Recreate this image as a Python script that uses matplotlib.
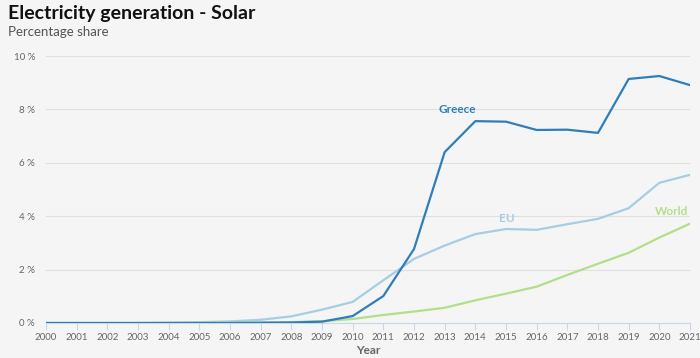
import matplotlib
matplotlib.use("Agg")
import matplotlib.pyplot as plt
from matplotlib.ticker import FuncFormatter

# ----------------------------------------------------------------- data
years = list(range(2000, 2022))
greece = [0, 0, 0, 0, 0, 0, 0, 0.01, 0.02, 0.05, 0.26, 1.01, 2.77, 6.4,
          7.56, 7.54, 7.23, 7.24, 7.12, 9.14, 9.25, 8.91]
eu = [0, 0, 0, 0, 0.01, 0.03, 0.06, 0.12, 0.25, 0.5, 0.79, 1.6, 2.4, 2.9,
      3.33, 3.52, 3.49, 3.7, 3.9, 4.3, 5.25, 5.55]
world = [0, 0, 0, 0, 0.01, 0.01, 0.01, 0.02, 0.03, 0.07, 0.15, 0.3, 0.43,
         0.57, 0.85, 1.1, 1.36, 1.8, 2.22, 2.63, 3.2, 3.72]
y_ticks = [0, 2, 4, 6, 8, 10]

C_GREECE = "#2f7ebc"
C_EU = "#a6cee3"
C_WORLD = "#b2df8a"
BG = "#f5f5f5"
FONT = ["Lato", "DejaVu Sans"]

plt.rcParams["font.family"] = FONT

fig = plt.figure(figsize=(7, 3.58), dpi=100, facecolor=BG)
ax = fig.add_axes([46 / 700, 35 / 358, 644 / 700, 267 / 358])
ax.set_facecolor(BG)

ax.plot(years, greece, color=C_GREECE, lw=1.6, zorder=3)
ax.plot(years, eu, color=C_EU, lw=1.6, zorder=2)
ax.plot(years, world, color=C_WORLD, lw=1.6, zorder=2)

# in-chart series labels
ax.text(2013.4, 7.98, "Greece", color=C_GREECE, fontsize=8.5, fontweight="bold",
        ha="center", va="center")
ax.text(2015.03, 3.93, "EU", color=C_EU, fontsize=8.5, fontweight="bold",
        ha="center", va="center")
ax.text(2020.4, 4.16, "World", color=C_WORLD, fontsize=8.5, fontweight="bold",
        ha="center", va="center")

ax.set_xlim(2000, 2021)
ax.set_ylim(0, 10)
ax.set_xticks(years)
ax.set_yticks(y_ticks)
ax.yaxis.set_major_formatter(FuncFormatter(lambda v, _: f"{v:.0f} %"))
ax.grid(axis="y", color="#e0e0e0", lw=0.8)
ax.set_axisbelow(True)
for s in ["top", "right", "left"]:
    ax.spines[s].set_visible(False)
ax.spines["bottom"].set_color("#ccd6eb")
ax.tick_params(axis="x", colors="#ccd6eb", labelcolor="#666666",
               labelsize=7, length=5, pad=2)
ax.tick_params(axis="y", length=0, labelcolor="#666666", labelsize=7, pad=8)
ax.set_xlabel("Year", color="#666666", fontsize=8.5, fontweight="bold", labelpad=2)

fig.text(8 / 700, 1 - 14 / 358, "Electricity generation - Solar", fontsize=14,
         fontweight="bold", color="#111111", va="center")
fig.text(8 / 700, 1 - 32 / 358, "Percentage share", fontsize=9.5,
         color="#555555", va="center")

fig.savefig("out.png", dpi=100, facecolor=BG)
